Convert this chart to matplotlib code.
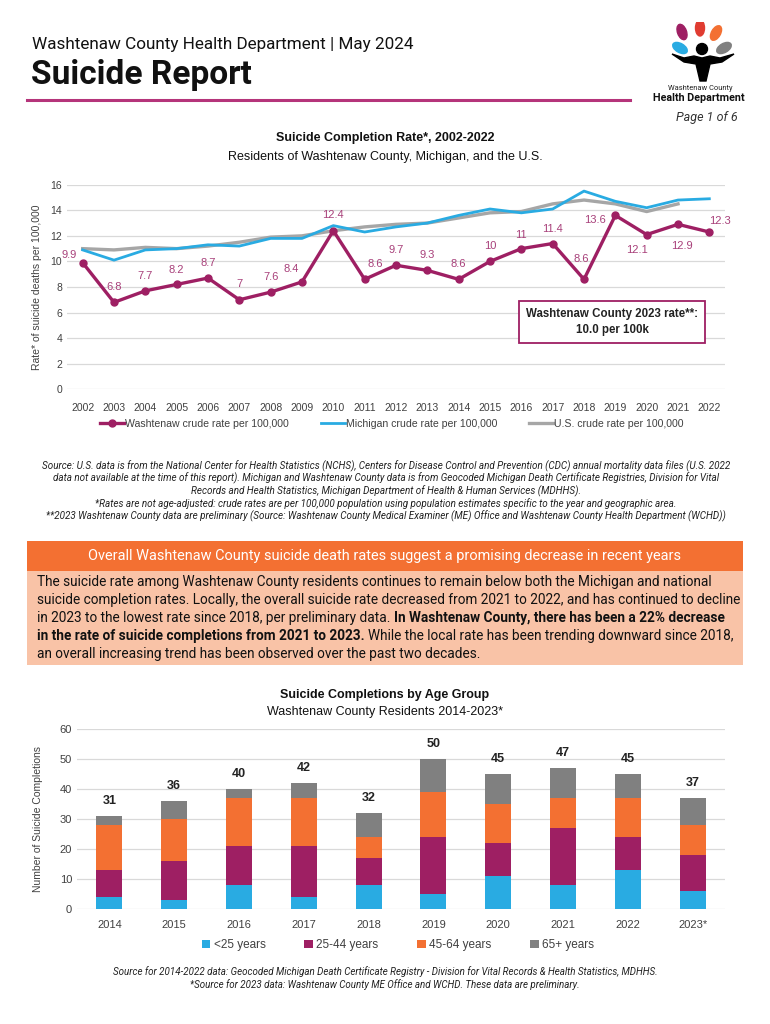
import matplotlib
matplotlib.use("Agg")
import matplotlib.pyplot as plt
from matplotlib.patches import Rectangle, Ellipse, Polygon, Circle
from matplotlib.lines import Line2D

# ---- data: suicide completion rate per 100,000 ----
years = list(range(2002, 2023))
washtenaw = [9.9, 6.8, 7.7, 8.2, 8.7, 7.0, 7.6, 8.4, 12.4, 8.6, 9.7,
             9.3, 8.6, 10.0, 11.0, 11.4, 8.6, 13.6, 12.1, 12.9, 12.3]
washtenaw_labels = ["9.9", "6.8", "7.7", "8.2", "8.7", "7", "7.6", "8.4", "12.4", "8.6", "9.7",
                    "9.3", "8.6", "10", "11", "11.4", "8.6", "13.6", "12.1", "12.9", "12.3"]
michigan = [10.9, 10.1, 10.9, 11.0, 11.3, 11.2, 11.8, 11.8, 12.8, 12.3, 12.7,
            13.0, 13.6, 14.1, 13.8, 14.1, 15.5, 14.7, 14.2, 14.8, 14.9]
us_years = list(range(2002, 2022))
us_rate = [11.0, 10.9, 11.1, 11.0, 11.2, 11.5, 11.9, 12.0, 12.4, 12.7,
           12.9, 13.0, 13.4, 13.8, 13.9, 14.5, 14.8, 14.5, 13.9, 14.5]

# ---- data: completions by age group ----
bar_years = ["2014", "2015", "2016", "2017", "2018", "2019", "2020", "2021", "2022", "2023*"]
under25 = [4, 3, 8, 4, 8, 5, 11, 8, 13, 6]
age25_44 = [9, 13, 13, 17, 9, 19, 11, 19, 11, 12]
age45_64 = [15, 14, 16, 16, 7, 15, 13, 10, 13, 10]
age65 = [3, 6, 3, 5, 8, 11, 10, 10, 8, 9]
age_groups = ["<25 years", "25-44 years", "45-64 years", "65+ years"]

MAGENTA = "#9E1F63"
LABEL_MAG = "#A8407A"
BLUE = "#29ABE2"
ORANGE = "#F37032"
GRAY = "#808080"
USGRAY = "#A6A6A6"
TXT = "#404040"
PAGEFONT = ["Roboto", "DejaVu Sans"]

plt.rcParams["font.family"] = ["Liberation Sans", "DejaVu Sans"]

W, H = 770, 1024
fig = plt.figure(figsize=(7.7, 10.24), dpi=100)
renderer = fig.canvas.get_renderer()


def fx(x):
    return x / W


def fy(y):
    return 1 - y / H


def fit_size(s, width_px, **kw):
    # font size that makes the string about width_px wide
    t = fig.text(0, 0, s, fontsize=10, **kw)
    w = t.get_window_extent(renderer).width
    t.remove()
    return 10 * width_px / w


# ---- page header ----
s = "Washtenaw County Health Department | May 2024"
fig.text(fx(32), fy(45), s, family=PAGEFONT, fontsize=fit_size(s, 383, family=PAGEFONT),
         va="center", color="#111111")
s = "Suicide Report"
fig.text(fx(31), fy(75), s, family=PAGEFONT, fontweight="bold",
         fontsize=fit_size(s, 221, family=PAGEFONT, fontweight="bold"),
         va="center", color="#111111")
fig.add_artist(Line2D([fx(27), fx(630)], [fy(100), fy(100)], color="#B5347A", lw=2.2))
fig.text(fx(738), fy(117), "Page 1 of 6", family=PAGEFONT, fontsize=9,
         style="italic", ha="right", va="center", color="#333333")

# logo
lax = fig.add_axes([fx(650), fy(84), fx(100), (84 - 22) / H])
lax.set_xlim(0, 100)
lax.set_ylim(0, 62)
lax.axis("off")
petals = [(32, 52, 110, MAGENTA), (50, 56, 90, "#E03C31"), (66, 51, 60, ORANGE),
          (30, 36, 150, BLUE), (74, 36, 30, GRAY)]
for px, py, ang, col in petals:
    lax.add_patch(Ellipse((px, py), 16, 9, angle=ang, color=col))
lax.add_patch(Circle((52, 35), 5.5, color="black"))
lax.add_patch(Polygon([(22, 30), (34, 22), (46, 20), (50, 3), (56, 3), (60, 20),
                       (72, 22), (84, 30), (70, 26), (60, 28), (52, 26), (44, 28), (34, 26)],
                      closed=True, color="black"))
s = "Washtenaw County"
fig.text(fx(700), fy(89), s, family=PAGEFONT, fontsize=fit_size(s, 64, family=PAGEFONT),
         ha="center", va="center", color="#222222")
s = "Health Department"
fig.text(fx(699), fy(98), s, family=PAGEFONT, fontweight="bold",
         fontsize=fit_size(s, 92, family=PAGEFONT, fontweight="bold"),
         ha="center", va="center", color="#111111")

# ---- line chart ----
fig.text(0.5, fy(138), "Suicide Completion Rate*, 2002-2022", fontsize=9,
         fontweight="bold", ha="center", va="center", color="#111111")
fig.text(0.5, fy(157), "Residents of Washtenaw County, Michigan, and the U.S.",
         fontsize=9, ha="center", va="center", color="#111111")

ax1 = fig.add_axes([fx(67), fy(389.3), fx(658), 204.6 / H])
ax1.plot(us_years, us_rate, color=USGRAY, lw=2.4, zorder=2)
ax1.plot(years, michigan, color=BLUE, lw=2.0, zorder=3)
ax1.plot(years, washtenaw, color=MAGENTA, lw=2.4, marker="o", markersize=5, zorder=4)
offsets = [(-14, 8), (0, 15), (0, 15), (0, 14), (0, 15), (0, 16), (0, 15), (-11, 13),
           (0, 16), (11, 15), (0, 15), (0, 15), (0, 15), (0, 15), (0, 14), (0, 15),
           (-3, 20), (-20, -5), (-10, -15), (4, -22), (11, 11)]
for yr, val, lab, off in zip(years, washtenaw, washtenaw_labels, offsets):
    ax1.annotate(lab, (yr, val), xytext=off, textcoords="offset pixels",
                 ha="center", va="center", fontsize=8, color=LABEL_MAG)
ax1.set_xlim(2001.5, 2022.5)
ax1.set_ylim(0, 16)
ax1.set_yticks(range(0, 17, 2))
ax1.set_xticks(years)
ax1.tick_params(length=0, labelsize=7.5, labelcolor=TXT)
ax1.tick_params(axis="x", pad=10)
ax1.grid(axis="y", color="#D9D9D9", lw=0.9)
ax1.set_axisbelow(True)
for sp in ax1.spines.values():
    sp.set_visible(False)
ax1.set_ylabel("Rate* of suicide deaths per 100,000", fontsize=7.5, color=TXT, labelpad=6)
ax1.annotate("Washtenaw County 2023 rate**:\n10.0 per 100k", xy=(fx(612), fy(322)),
             xycoords="figure fraction", ha="center", va="center", fontsize=8.3,
             fontweight="bold", color="#222222", linespacing=1.5,
             bbox=dict(boxstyle="square,pad=0.6", fc="white", ec=MAGENTA, lw=1.3))

handles = [Line2D([], [], color=MAGENTA, lw=2.4, marker="o", markersize=5),
           Line2D([], [], color=BLUE, lw=2.0),
           Line2D([], [], color=USGRAY, lw=2.4)]
fig.legend(handles, ["Washtenaw crude rate per 100,000", "Michigan crude rate per 100,000",
                     "U.S. crude rate per 100,000"],
           loc="center", bbox_to_anchor=(fx(392), fy(424)), ncol=3, frameon=False,
           fontsize=7.6, handlelength=2.3, columnspacing=3.0, handletextpad=0.1,
           labelcolor=TXT)

src1 = ["Source: U.S. data is from the National Center for Health Statistics (NCHS), Centers for Disease Control and Prevention (CDC) annual mortality data files (U.S. 2022",
        "data not available at the time of this report). Michigan and Washtenaw County data is from Geocoded Michigan Death Certificate Registries, Division for Vital",
        "Records and Health Statistics, Michigan Department of Health & Human Services (MDHHS).",
        "*Rates are not age-adjusted: crude rates are per 100,000 population using population estimates specific to the year and geographic area.",
        "**2023 Washtenaw County data are preliminary (Source: Washtenaw County Medical Examiner (ME) Office and Washtenaw County Health Department (WCHD))"]
src_size = fit_size(src1[0], 688, family=PAGEFONT, style="italic")
for i, line in enumerate(src1):
    fig.text(fx(386), fy(466 + i * 12.5), line, family=PAGEFONT, fontsize=src_size,
             style="italic", ha="center", va="center", color="#222222")

# ---- summary box ----
fig.add_artist(Rectangle((fx(27), fy(571)), fx(716), 30 / H, color="#F37032", lw=0))
fig.add_artist(Rectangle((fx(27), fy(665)), fx(716), 94 / H, color="#F9C3A7", lw=0))
s = "Overall Washtenaw County suicide death rates suggest a promising decrease in recent years"
fig.text(0.5, fy(556), s, family=PAGEFONT, fontsize=fit_size(s, 595, family=PAGEFONT),
         ha="center", va="center", color="white")

body = [
    [("The suicide rate among Washtenaw County residents continues to remain below both the Michigan and national", "normal")],
    [("suicide completion rates. Locally, the overall suicide rate decreased from 2021 to 2022, and has continued to decline", "normal")],
    [("in 2023 to the lowest rate since 2018, per preliminary data.", "normal"),
     ("In Washtenaw County, there has been a 22% decrease", "bold")],
    [("in the rate of suicide completions from 2021 to 2023.", "bold"),
     ("While the local rate has been trending downward since 2018,", "normal")],
    [("an overall increasing trend has been observed over the past two decades.", "normal")],
]
body_size = fit_size(body[1][0][0], 700, family=PAGEFONT)
probe_a = fig.text(0, 0, "x x", family=PAGEFONT, fontsize=body_size)
probe_b = fig.text(0, 0, "xx", family=PAGEFONT, fontsize=body_size)
space_w = (probe_a.get_window_extent(renderer).width -
           probe_b.get_window_extent(renderer).width) / fig.bbox.width
probe_a.remove()
probe_b.remove()
for i, parts in enumerate(body):
    x = fx(37)
    for txt, weight in parts:
        t = fig.text(x, fy(582 + i * 18), txt, family=PAGEFONT, fontsize=body_size,
                     fontweight=weight, va="center", color="#111111")
        x += t.get_window_extent(renderer).width / fig.bbox.width + space_w

# ---- bar chart ----
fig.text(0.5, fy(695), "Suicide Completions by Age Group", fontsize=9,
         fontweight="bold", ha="center", va="center", color="#111111")
fig.text(0.5, fy(712), "Washtenaw County Residents 2014-2023*", fontsize=9,
         ha="center", va="center", color="#111111")

ax2 = fig.add_axes([fx(77), fy(908.7), fx(648), 179.4 / H])
xs = list(range(len(bar_years)))
bottom = [0] * len(xs)
for vals, col, lab in zip([under25, age25_44, age45_64, age65],
                          [BLUE, MAGENTA, ORANGE, GRAY], age_groups):
    ax2.bar(xs, vals, width=0.4, bottom=bottom, color=col, label=lab, zorder=3)
    bottom = [b + v for b, v in zip(bottom, vals)]
for x, tot in zip(xs, bottom):
    ax2.text(x, tot + 5, str(tot), ha="center", va="center", fontsize=9,
             fontweight="bold", color="#222222")
ax2.set_xlim(-0.5, len(xs) - 0.5)
ax2.set_ylim(0, 60)
ax2.set_yticks(range(0, 61, 10))
ax2.set_xticks(xs)
ax2.set_xticklabels(bar_years)
ax2.tick_params(length=0, labelsize=8, labelcolor=TXT)
ax2.tick_params(axis="x", pad=8)
ax2.grid(axis="y", color="#D9D9D9", lw=0.9)
ax2.set_axisbelow(True)
for sp in ax2.spines.values():
    sp.set_visible(False)
ax2.set_ylabel("Number of Suicide Completions", fontsize=7.5, color=TXT, labelpad=12)
fig.legend(loc="center", bbox_to_anchor=(fx(398), fy(945)), ncol=4, frameon=False,
           fontsize=8.5, handlelength=0.7, handleheight=0.7, handletextpad=0.3,
           columnspacing=3.3, labelcolor=TXT)

s = "Source for 2014-2022 data: Geocoded Michigan Death Certificate Registry - Division for Vital Records & Health Statistics, MDHHS."
bot_size = fit_size(s, 545, family=PAGEFONT, style="italic")
fig.text(0.5, fy(972), s, family=PAGEFONT, fontsize=bot_size, style="italic",
         ha="center", va="center", color="#222222")
fig.text(0.5, fy(985), "*Source for 2023 data: Washtenaw County ME Office and WCHD. These data are preliminary.",
         family=PAGEFONT, fontsize=bot_size, style="italic", ha="center", va="center",
         color="#222222")

fig.savefig("out.png", dpi=100)
